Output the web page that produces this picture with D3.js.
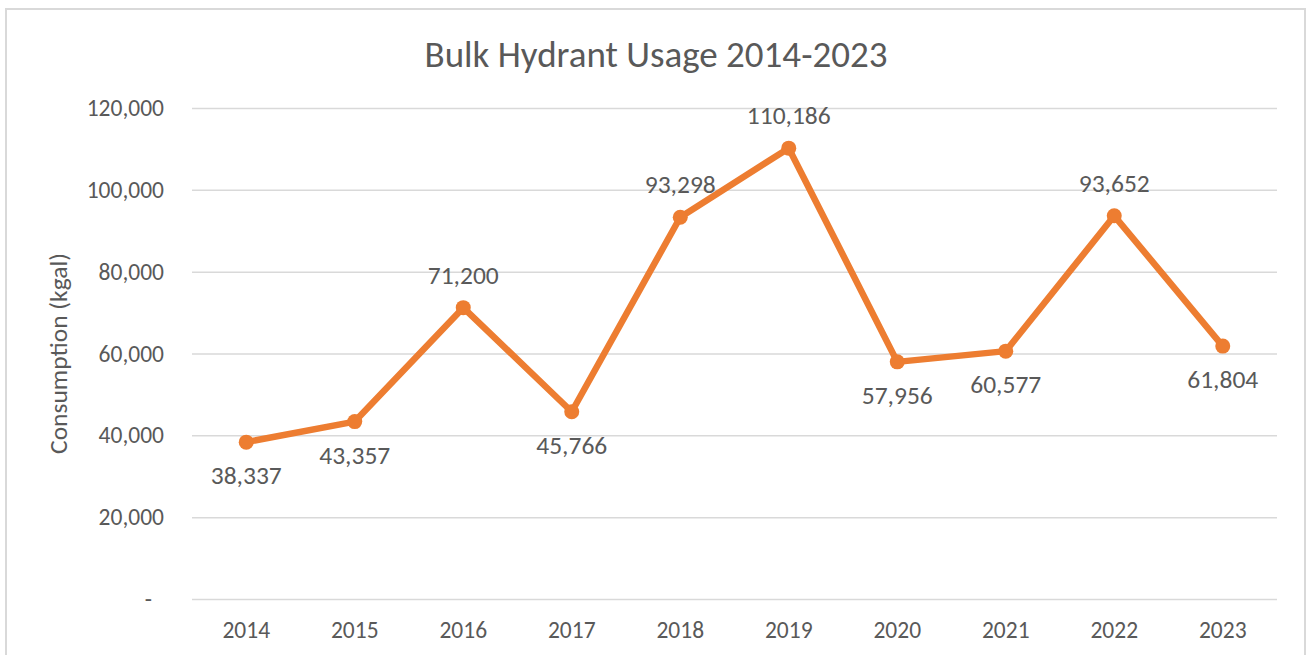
<!DOCTYPE html>
<html>
<head>
<meta charset="utf-8">
<script src="https://cdn.jsdelivr.net/npm/d3@7"></script>
<style>
  html, body { margin: 0; padding: 0; background: #fff; }
  svg { display: block; font-family: Carlito, Calibri, "Open Sans", sans-serif; }
</style>
</head>
<body>
<svg id="chart" width="1307" height="655"></svg>
<script>
// Bulk hydrant consumption by year (kgal)
const years = ["2014", "2015", "2016", "2017", "2018", "2019", "2020", "2021", "2022", "2023"];
const consumption = [38337, 43357, 71200, 45766, 93298, 110186, 57956, 60577, 93652, 61804];
const labelSide = ["below", "below", "above", "below", "above", "above", "below", "below", "above", "below"];
const yTicks = [0, 20000, 40000, 60000, 80000, 100000, 120000];

const W = 1307, H = 655;
const margin = { top: 108, right: 30, bottom: 56, left: 192 };
const svg = d3.select("#chart");
const FONT = "Carlito, Calibri, 'Open Sans', sans-serif";

// chart frame
svg.append("rect")
  .attr("x", 6).attr("y", 9)
  .attr("width", 1299).attr("height", 660)
  .attr("fill", "#fff")
  .attr("stroke", "#D9D9D9").attr("stroke-width", 2);

const x = d3.scaleBand().domain(years).range([margin.left, W - margin.right]);
const y = d3.scaleLinear().domain([0, 120000]).range([H - margin.bottom, margin.top]);

const fmt = d3.format(",");
const textColor = "#595959";

// horizontal gridlines + y labels
const yAxis = d3.axisLeft(y)
  .tickValues(yTicks)
  .tickSize(-(W - margin.right - margin.left))
  .tickPadding(28)
  .tickFormat(d => d === 0 ? "-" : fmt(d));
const gy = svg.append("g").attr("transform", `translate(${margin.left},0)`).call(yAxis);
gy.select(".domain").remove();
gy.selectAll(".tick line").attr("stroke", "#D9D9D9").attr("stroke-width", 1.5);
gy.selectAll(".tick text").attr("fill", textColor).attr("font-size", 23.5)
  .attr("font-family", FONT)
  .attr("dx", d => d === 0 ? -12 : 0);

// x labels
const xAxis = d3.axisBottom(x).tickSize(0).tickPadding(22);
const gx = svg.append("g").attr("transform", `translate(0,${H - margin.bottom})`).call(xAxis);
gx.select(".domain").remove();
gx.selectAll(".tick text").attr("fill", textColor).attr("font-size", 23.5)
  .attr("font-family", FONT);

// series line
const pts = years.map((yr, i) => ({ yr, v: consumption[i], side: labelSide[i] }));
const cx = d => x(d.yr) + x.bandwidth() / 2;
svg.append("path")
  .datum(pts)
  .attr("fill", "none")
  .attr("stroke", "#ED7D31")
  .attr("stroke-width", 6.5)
  .attr("stroke-linejoin", "round")
  .attr("d", d3.line().x(cx).y(d => y(d.v)));

svg.selectAll("circle.pt").data(pts).join("circle")
  .attr("class", "pt")
  .attr("cx", cx).attr("cy", d => y(d.v))
  .attr("r", 7.5).attr("fill", "#ED7D31");

// value labels
svg.selectAll("text.val").data(pts).join("text")
  .attr("class", "val")
  .attr("x", cx)
  .attr("y", d => y(d.v) + (d.side === "above" ? -33 : 33))
  .attr("dy", "0.35em")
  .attr("text-anchor", "middle")
  .attr("fill", textColor)
  .attr("font-size", 25.5)
  .text(d => fmt(d.v));

// title
svg.append("text")
  .attr("x", 656).attr("y", 54).attr("dy", "0.35em")
  .attr("text-anchor", "middle")
  .attr("fill", textColor)
  .attr("font-size", 37)
  .text("Bulk Hydrant Usage 2014-2023");

// y axis title
svg.append("text")
  .attr("transform", `translate(58,${(margin.top + H - margin.bottom) / 2}) rotate(-90)`)
  .attr("dy", "0.35em")
  .attr("text-anchor", "middle")
  .attr("fill", textColor)
  .attr("font-size", 25.5)
  .text("Consumption (kgal)");
</script>
</body>
</html>
